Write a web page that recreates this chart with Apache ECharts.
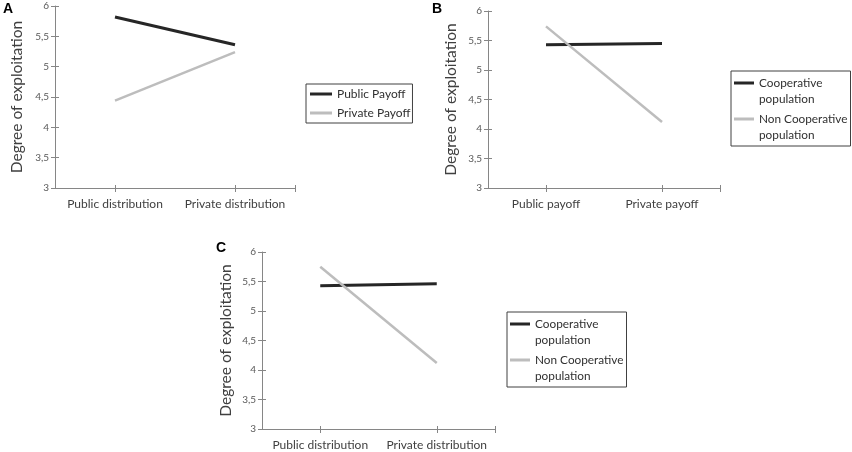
<!DOCTYPE html>
<html><head><meta charset="utf-8">
<script src="https://cdn.jsdelivr.net/npm/echarts@6/dist/echarts.min.js"></script>
<style>html,body{margin:0;padding:0;background:#fff}#c{width:852px;height:452px}</style>
</head><body><div id="c"></div>
<script>
// ---- data ----
const categoriesA = ['Public distribution', 'Private distribution'];
const categoriesB = ['Public payoff', 'Private payoff'];
const categoriesC = ['Public distribution', 'Private distribution'];
const aPublicPayoff = [5.82, 5.36];
const aPrivatePayoff = [4.44, 5.24];
const bCooperative = [5.43, 5.45];
const bNonCooperative = [5.74, 4.12];
const cCooperative = [5.43, 5.46];
const cNonCooperative = [5.75, 4.12];
const yTickValues = [3, 3.5, 4, 4.5, 5, 5.5, 6];
const yTickLabels = ['3', '3,5', '4', '4,5', '5', '5,5', '6'];
const yTitle = 'Degree of exploitation';

// ---- build ----
const AXIS = '#868686';
const FONT = 'Lato';
const grids = [
  {left: 55, top: 6, width: 240, height: 182},
  {left: 488, top: 11, width: 232, height: 177},
  {left: 262, top: 252, width: 233, height: 177}
];
const cats = [categoriesA, categoriesB, categoriesC];
const nameGaps = [30, 29, 28];
const xAxis = [], yAxis = [];
cats.forEach((c, g) => {
  const slots = c.map((_, i) => i + 0.5);
  const tickVals = slots.concat([c.length]);
  xAxis.push({
    type: 'value', gridIndex: g, min: 0, max: c.length,
    axisLine: {show: true, lineStyle: {color: AXIS, width: 1}},
    axisTick: {show: true, length: 4, customValues: tickVals, lineStyle: {color: AXIS}},
    axisLabel: {show: true, customValues: slots, margin: 10, fontSize: 12, color: '#404040', fontFamily: FONT,
      formatter: v => c[Math.round(v - 0.5)] || ''},
    splitLine: {show: false}
  });
  xAxis.push({
    type: 'value', gridIndex: g, min: 0, max: c.length, position: 'bottom',
    axisLine: {show: false},
    axisTick: {show: true, inside: true, length: 3, customValues: tickVals, lineStyle: {color: AXIS}},
    axisLabel: {show: false}, splitLine: {show: false}
  });
  yAxis.push({
    type: 'value', gridIndex: g, min: 3, max: 6, interval: 0.5,
    name: yTitle, nameLocation: 'middle', nameGap: nameGaps[g],
    nameTextStyle: {fontSize: 15.5, color: '#404040', fontFamily: FONT},
    axisLine: {show: true, lineStyle: {color: AXIS, width: 1}},
    axisTick: {show: true, length: 4, lineStyle: {color: AXIS}},
    axisLabel: {margin: 6, fontSize: 10, color: '#595959', fontFamily: FONT,
      formatter: v => yTickLabels[yTickValues.indexOf(v)] ?? String(v).replace('.', ',')},
    splitLine: {show: false}
  });
  yAxis.push({
    type: 'value', gridIndex: g, min: 3, max: 6, interval: 0.5, position: 'left',
    axisLine: {show: false},
    axisTick: {show: true, inside: true, length: 4, lineStyle: {color: AXIS}},
    axisLabel: {show: false}, splitLine: {show: false}
  });
});

function pts(vals) { return vals.map((v, i) => [i + 0.5, v]); }
function line(name, vals, g, color, width) {
  return {
    type: 'line', name, data: pts(vals), xAxisIndex: g * 2, yAxisIndex: g * 2,
    symbol: 'none', color: color, lineStyle: {color: color, width: width},
    silent: true, animation: false, z: 2
  };
}
const BLACK = '#262626', GRAY = '#bdbdbd';
const series = [
  line('Public Payoff', aPublicPayoff, 0, BLACK, 3),
  line('Private Payoff', aPrivatePayoff, 0, GRAY, 2.5),
  line('Cooperative population', bCooperative, 1, BLACK, 3),
  line('Non Cooperative population', bNonCooperative, 1, GRAY, 2.5),
  line('Cooperative population', cCooperative, 2, BLACK, 3),
  line('Non Cooperative population', cNonCooperative, 2, GRAY, 2.5)
];

const twoLineIcon = 'path://M0,6.5H24V9.5H0Z M0,0L0.1,0 M0,32L0.1,32';
const legBase = {
  orient: 'vertical', selectedMode: false, borderColor: '#404040', borderWidth: 1,
  symbolKeepAspect: false, itemStyle: {borderWidth: 0},
  textStyle: {fontSize: 12, color: '#303030', fontFamily: FONT}
};
const legend = [
  Object.assign({}, legBase, {left: 306, top: 84, padding: [4, 2, 4, 4], itemGap: 7,
    itemWidth: 22, itemHeight: 3, icon: 'rect', data: ['Public Payoff', 'Private Payoff']}),
  Object.assign({}, legBase, {left: 731, top: 71, padding: [4, 3, 3, 3], itemGap: 4,
    itemWidth: 20, itemHeight: 32, icon: twoLineIcon,
    textStyle: Object.assign({}, legBase.textStyle, {fontSize: 11.8, lineHeight: 16}),
    formatter: n => n.replace(' population', '\npopulation'),
    data: ['Cooperative population', 'Non Cooperative population']}),
  Object.assign({}, legBase, {left: 507, top: 312, padding: [4, 3, 3, 3], itemGap: 4,
    itemWidth: 20, itemHeight: 32, icon: twoLineIcon,
    textStyle: Object.assign({}, legBase.textStyle, {fontSize: 11.8, lineHeight: 16}),
    formatter: n => n.replace(' population', '\npopulation'),
    data: ['Cooperative population', 'Non Cooperative population']})
];

const tStyle = {fontSize: 14, fontWeight: 'bold', fontFamily: 'Liberation Sans', color: '#000'};
const title = [
  {text: 'A', left: 3, top: 2, padding: 0, textStyle: tStyle},
  {text: 'B', left: 432, top: 2, padding: 0, textStyle: tStyle},
  {text: 'C', left: 216, top: 241, padding: 0, textStyle: tStyle}
];

const chart = echarts.init(document.getElementById('c'), null, {renderer: 'canvas'});
chart.setOption({animation: false, backgroundColor: '#fff', title, legend, grid: grids, xAxis, yAxis, series});
</script>
</body></html>
